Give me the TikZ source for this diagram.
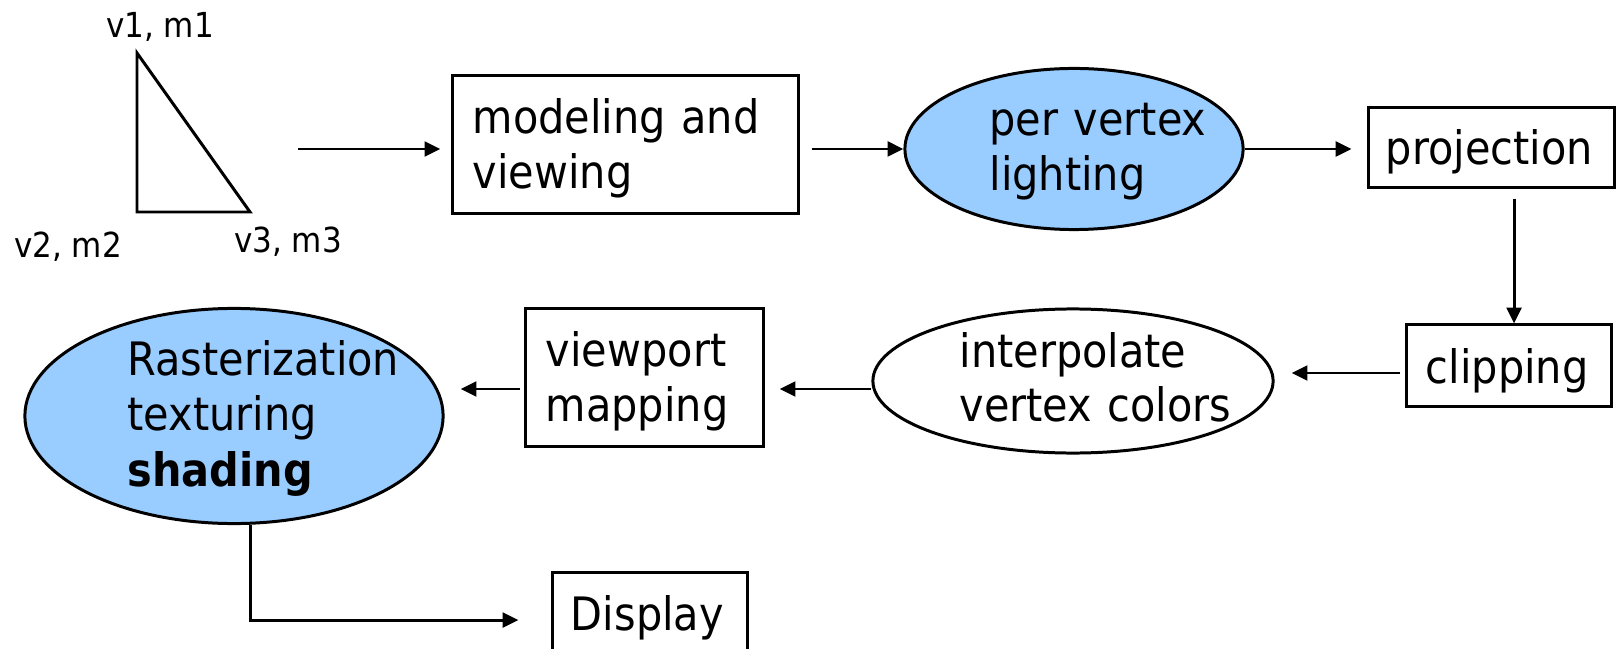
\documentclass[tikz,border=0pt]{standalone}
\usepackage{fontspec}
\setmainfont{DejaVu Sans Condensed}
\usetikzlibrary{arrows.meta,shapes.geometric}
\definecolor{sky}{RGB}{153,204,255}

\begin{document}
\begin{tikzpicture}[x=0.01cm,y=-0.01cm,line width=0.85pt,
    big/.style={font=\fontsize{13.1}{15.6}\selectfont},
    tag/.style={font=\fontsize{9.8}{11.8}\selectfont,anchor=base,inner sep=0},
    stage/.style={big,draw,rectangle,align=left,inner xsep=0.2cm,minimum height=0.79cm,text depth=0pt},
    twoline/.style={minimum height=1.37cm,text depth=0.56cm},
    blob/.style={draw,ellipse,inner sep=0},
    words/.style={big,align=left,anchor=base west,inner sep=0,text width=3cm},
    arr/.style={-{Triangle[length=4.5pt,width=4.2pt]}}]
  \useasboundingbox (0,0) rectangle (1616,649);

  % the triangle
  \coordinate (v1) at (137,53); \coordinate (v2) at (137,212); \coordinate (v3) at (250,212);
  \draw (v1) -- (v2) -- (v3) -- cycle;
  \node[tag] (t1) at (160,38)  {v1, m1};
  \node[tag] (t2) at (68,258)  {v2, m2};
  \node[tag] (t3) at (288,253) {v3, m3};

  % first row
  \node[stage,twoline,text width=3.05cm] (model) at (625.5,144.5) {modeling and\\viewing};
  \node[blob,fill=sky,minimum width=3.38cm,minimum height=1.61cm] (light) at (1074,149) {};
  \node[words] (lightTxt) at (988,136) {per vertex\\lighting};
  \node[stage,text width=2.11cm,inner xsep=0.17cm] (proj) at (1491.5,147.5) {projection};

  % second row
  \node[stage,text width=1.66cm,inner xsep=0.19cm,minimum height=0.81cm] (clip) at (1509,365.5) {clipping};
  \node[blob,minimum width=4cm,minimum height=1.44cm] (interp) at (1073,381) {};
  \node[words] (interpTxt) at (958,367) {interpolate\\vertex colors};
  \node[stage,twoline,text width=1.97cm] (view) at (644.5,377.5) {viewport\\mapping};
  \node[blob,fill=sky,minimum width=4.18cm,minimum height=2.15cm] (raster) at (234,416) {};
  \node[words,font=\fontsize{13.1}{15.9}\selectfont] (rasterTxt) at (126,375) {Rasterization\\texturing\\\textbf{shading}};
  \node[stage,text width=1.58cm,inner xsep=0.18cm] (disp) at (650,612.5) {Display};

  % connectors
  \coordinate (src) at (298,149);
  \coordinate (r2a) at (0,373); \coordinate (r2b) at (0,389);
  \draw[arr,shorten >=0.11cm] (src) -- (src -| model.west);
  \draw[arr,shorten <=0.12cm] (model.east |- light.west) -- (light.west);
  \draw[arr,shorten >=0.16cm] (light.east) -- (light.east -| proj.west);
  \draw[arr,shorten <=0.1cm] ([xshift=0.225cm]proj.south) -- ([xshift=0.225cm]proj.south |- clip.north);
  \draw[arr,shorten <=0.05cm,shorten >=0.17cm] (clip.west |- r2a) -- (interp.east |- r2a);
  \draw[arr,shorten >=0.15cm] (interp.west |- r2b) -- (view.east |- r2b);
  \draw[arr,shorten <=0.04cm,shorten >=0.16cm] (view.west |- r2b) -- (raster.east |- r2b);
  \draw[arr,shorten >=0.33cm] ([xshift=0.16cm]raster.south) |- ([yshift=-0.075cm]disp.west);
\end{tikzpicture}
\end{document}
